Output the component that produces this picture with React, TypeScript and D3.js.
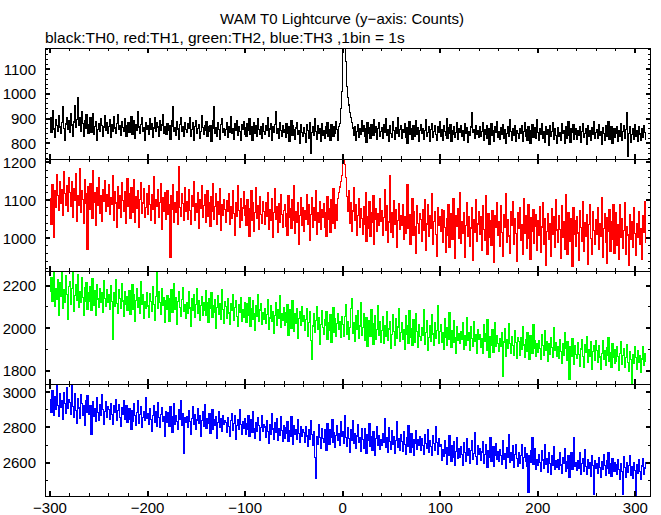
import React from "react";
import * as d3 from "d3";

// first bin start time (s); 1 bin = 1 s
const START_TIME = -300;

// TH0 (black) counts per 1 s bin, from t = -300 to t = 310
const TH0 = [
  905, 842, 880, 931, 858, 823, 896, 871, 849, 912, 866, 838, 884, 947, 861, 812, 878, 903, 855, 893,
  842, 919, 874, 828, 886, 951, 863, 897, 985, 872, 905, 848, 930, 880, 826, 893, 859, 914, 871, 839,
  876, 903, 845, 861, 922, 834, 868, 889, 812, 857, 880, 846, 898, 871, 829, 866, 910, 852, 884, 841,
  868, 895, 823, 877, 849, 906, 862, 838, 881, 916, 855, 872, 831, 889, 864, 847, 901, 873, 826, 858,
  882, 845, 869, 907, 836, 861, 893, 818, 874, 852, 928, 866, 839, 877, 902, 848, 863, 811, 885, 857,
  871, 834, 898, 856, 879, 823, 862, 905, 847, 884, 866, 829, 893, 852, 874, 918, 841, 869, 857, 836,
  880, 851, 873, 817, 868, 892, 950, 846, 862, 831, 887, 858, 814, 875, 903, 849, 866, 827, 884, 857,
  843, 878, 861, 902, 829, 855, 884, 812, 867, 893, 838, 859, 876, 821, 848, 911, 863, 834, 870, 852,
  888, 826, 866, 847, 873, 809, 859, 893, 950, 841, 864, 828, 882, 855, 817, 876, 899, 843, 861, 832,
  857, 884, 822, 869, 845, 906, 838, 861, 815, 879, 852, 893, 831, 866, 847, 810, 874, 858, 889, 836,
  862, 827, 879, 851, 898, 834, 866, 813, 855, 884, 841, 872, 829, 901, 857, 836, 868, 819, 880, 849,
  834, 871, 852, 905, 826, 858, 881, 812, 867, 845, 876, 930, 838, 861, 819, 884, 850, 827, 872, 843,
  856, 823, 880, 841, 866, 808, 849, 893, 832, 871, 855, 817, 862, 884, 836, 851, 799, 877, 845, 826,
  863, 839, 802, 874, 852, 821, 884, 758, 845, 867, 830, 899, 848, 816, 871, 840, 858, 809, 880, 833,
  852, 818, 869, 840, 883, 826, 857, 811, 874, 846, 829, 866, 838, 889, 855, 812, 867, 880, 940, 1010,
  1200, 1250, 1230, 1130, 1030, 985, 955, 925, 905, 885, 862, 831, 866, 812, 849, 877, 825, 858, 836, 893,
  846, 871, 829, 858, 804, 885, 840, 862, 819, 876, 851, 833, 897, 844, 868, 815, 859, 882, 827, 848,
  863, 821, 877, 845, 898, 832, 856, 809, 870, 841, 824, 886, 851, 817, 864, 839, 902, 828, 855, 872,
  818, 856, 842, 879, 825, 863, 801, 847, 889, 834, 858, 815, 871, 846, 829, 893, 837, 862, 808, 851,
  874, 838, 861, 817, 852, 895, 829, 843, 868, 806, 856, 881, 824, 849, 872, 835, 813, 866, 842, 888,
  827, 854, 811, 872, 846, 830, 898, 819, 862, 841, 876, 808, 853, 835, 869, 822, 845, 884, 816, 858,
  843, 870, 826, 852, 813, 881, 839, 864, 805, 848, 830, 866, 925, 843, 857, 818, 873, 834, 851, 824,
  869, 827, 846, 884, 812, 855, 837, 872, 819, 861, 796, 848, 878, 831, 853, 809, 866, 842, 889, 825,
  848, 815, 863, 836, 877, 821, 854, 799, 841, 868, 829, 894, 846, 812, 859, 833, 872, 807, 850, 838,
  821, 858, 840, 873, 807, 846, 882, 828, 855, 813, 867, 839, 801, 850, 876, 824, 847, 862, 818, 896,
  842, 811, 859, 834, 878, 820, 849, 803, 866, 837, 855, 792, 871, 829, 846, 883, 815, 858, 832, 801,
  864, 826, 845, 812, 879, 838, 853, 798, 869, 821, 847, 886, 830, 805, 858, 842, 874, 816, 836, 860,
  815, 852, 833, 867, 804, 846, 881, 822, 839, 858, 794, 871, 828, 850, 812, 865, 837, 889, 818, 844,
  856, 819, 877, 832, 848, 796, 864, 841, 810, 873, 827, 853, 888, 815, 842, 868, 801, 835, 859, 824,
  838, 866, 809, 852, 827, 879, 813, 846, 872, 820, 855, 925, 748, 841, 868, 803, 836, 859, 814, 877,
  829, 851, 806, 866, 837, 812, 858, 824, 871, 843, 816,
];

// TH1 (red)
const TH1 = [
  1105, 1038, 1142, 1098, 1003, 1126, 1081, 1167, 1112, 1074, 1150, 1093, 1129, 1061, 1175, 1118, 1087, 1139, 1072, 1160,
  1121, 1083, 1149, 1056, 1132, 1099, 1170, 1045, 1113, 1086, 1184, 1068, 1127, 1102, 1040, 1155, 1091, 1118, 970, 1135,
  1076, 1143, 1109, 1052, 1178, 1094, 1121, 1035, 1133, 1087, 1160, 1067, 1112, 1045, 1129, 1098, 1152, 1071, 1116, 1083,
  1141, 1064, 1107, 1089, 1165, 1048, 1122, 1093, 1030, 1137, 1079, 1113, 1056, 1148, 1099, 1072, 1124, 1040, 1101, 1158,
  1085, 1117, 1052, 1134, 1097, 1068, 1156, 1043, 1111, 1079, 1125, 1028, 1102, 1147, 1066, 1093, 1130, 1055, 1081, 1119,
  1062, 1139, 1090, 1048, 1115, 1077, 1163, 1039, 1102, 1084, 1128, 1056, 1095, 1143, 1023, 1108, 1071, 1120, 1049, 1097,
  1126, 1064, 1088, 950, 1112, 1075, 1141, 1043, 1094, 1069, 1123, 1036, 1190, 1082, 1058, 1117, 1091, 1047, 1134, 1072,
  1098, 1051, 1129, 1074, 1037, 1112, 1083, 1150, 1046, 1091, 1068, 1121, 1027, 1103, 1079, 1138, 1055, 1087, 1114, 1042,
  1075, 1126, 1058, 1094, 1031, 1109, 1072, 1145, 1049, 1083, 1117, 1038, 1096, 1064, 1132, 1020, 1088, 1060, 1103, 1077,
  1042, 1099, 1071, 1118, 1036, 1084, 1053, 1127, 1066, 1009, 1095, 1058, 1140, 1073, 1029, 1106, 1047, 1080, 1122, 1061,
  1087, 1034, 1101, 1062, 1005, 1079, 1125, 1048, 1093, 1017, 1068, 1134, 1052, 1086, 1024, 1110, 1063, 1039, 1097, 1071,
  1036, 1095, 1059, 1120, 1023, 1077, 1046, 1105, 1002, 1068, 1131, 1050, 1084, 1015, 1092, 1041, 1116, 1063, 1028, 1074,
  1090, 1031, 1066, 1009, 1112, 1054, 1079, 1025, 1101, 1047, 1138, 1012, 1070, 1043, 1095, 985, 1061, 1107, 1034, 1082,
  1019, 1073, 1050, 1116, 1037, 1089, 994, 1062, 1108, 1028, 1081, 1046, 1125, 1011, 1069, 1041, 1098, 1024, 1076, 1055,
  1092, 1030, 1067, 1005, 1110, 1049, 1078, 1016, 1101, 1040, 1130, 1062, 1025, 1088, 1047, 1105, 1120, 1135, 1150, 1165,
  1215, 1230, 1195, 1160, 1110, 1070, 1125, 1040, 1095, 1018, 1072, 1133, 1046, 1089, 1007, 1061, 1104, 1029, 1078, 1052,
  1011, 1083, 1037, 1120, 992, 1058, 1026, 1097, 1004, 1069, 1041, 1112, 985, 1050, 1079, 1018, 1064, 1033, 1106, 1045,
  1072, 1009, 1054, 1128, 1021, 1086, 990, 1043, 1165, 1015, 1067, 1002, 1099, 1038, 1075, 976, 1048, 1091, 1024, 1060,
  1034, 1090, 997, 1058, 1013, 1079, 1141, 1026, 1063, 985, 1047, 1104, 1008, 1071, 1032, 960, 1085, 1039, 1012, 1066,
  1050, 992, 1076, 1021, 1103, 968, 1038, 1089, 1004, 1060, 1025, 1118, 983, 1045, 1071, 1010, 952, 1082, 1033, 1057,
  1019, 1075, 990, 1073, 1028, 962, 1053, 1009, 1088, 975, 1040, 1066, 998, 1104, 1022, 946, 1061, 1031, 1079, 1001,
  1120, 987, 1045, 1012, 1067, 950, 1034, 1093, 1006, 1058, 979, 1027, 1082, 943, 1049, 1015, 1101, 992, 1038, 1070,
  1011, 1056, 968, 1087, 1024, 995, 1112, 1039, 958, 1065, 1003, 1046, 981, 1074, 1020, 937, 1059, 1030, 1095, 1007,
  1043, 978, 1085, 1016, 952, 1062, 1028, 1119, 990, 1049, 1006, 961, 1071, 1034, 1097, 983, 1052, 1013, 940, 1068,
  1025, 1080, 995, 1037, 958, 1104, 1012, 1060, 974, 1041, 1089, 1000, 945, 1055, 1018, 1076, 987, 1032, 1063, 969,
  1047, 1009, 1083, 962, 1030, 1094, 985, 1051, 930, 1019, 1066, 998, 1040, 953, 1078, 1011, 1057, 976, 1101, 1022,
  990, 1061, 1024, 948, 1085, 1003, 1045, 972, 1116, 1018, 957, 1069, 1033, 991, 1052, 925, 1080, 1010, 1047, 979,
  1058, 1014, 943, 1074, 1029, 992, 1098, 966, 1041, 1005, 1063, 931, 1037, 1088, 1000, 959, 1070, 1021, 985, 1049,
  1011, 1082, 970, 1039, 1006, 1107, 951, 1026, 1064, 990, 934, 1055, 1017, 1076, 965, 1043, 998, 1090, 960, 1030,
  1067, 982, 1035, 945, 1088, 1003, 1052, 974, 1020, 1093, 957, 1031, 1009, 928, 1062, 996, 1044, 975, 1081, 1012,
  956, 1038, 1003, 1071, 984, 1026, 945, 1059, 1015, 1096, 990,
];

// TH2 (green)
const TH2 = [
  2175, 2240, 2128, 2205, 2262, 2100, 2188, 2135, 2230, 2058, 2215, 2150, 2265, 2093, 2180, 2122, 2248, 2160, 2040, 2197,
  2220, 2112, 2185, 2262, 2078, 2154, 2206, 2131, 2250, 2096, 2173, 2119, 2238, 2145, 2060, 2192, 2127, 2214, 2088, 2168,
  2126, 2195, 2084, 2231, 2150, 2109, 2178, 2062, 2204, 2137, 2096, 2187, 2122, 2168, 2075, 2225, 2141, 2103, 2182, 2119,
  2159, 2087, 2198, 2124, 1945, 2166, 2103, 2230, 2115, 2070, 2181, 2139, 2094, 2212, 2128, 2056, 2171, 2110, 2147, 2082,
  2145, 2176, 2065, 2118, 2203, 2090, 2157, 2034, 2132, 2184, 2099, 2146, 2071, 2220, 2113, 2160, 2048, 2127, 2095, 2169,
  2104, 2051, 2162, 2125, 2080, 2196, 2113, 2037, 2148, 2265, 2092, 2171, 2119, 2063, 2185, 2106, 2142, 2026, 2130, 2088,
  2155, 2094, 2031, 2139, 2182, 2075, 2116, 2208, 2087, 2143, 2019, 2126, 2170, 2098, 2054, 2135, 2193, 2081, 2111, 2046,
  2122, 2068, 2174, 2095, 2010, 2137, 2083, 2156, 2049, 2112, 2188, 2071, 2128, 2035, 2105, 2150, 2062, 2119, 2084, 2176,
  2059, 2118, 2026, 2141, 2093, 2167, 2050, 2104, 2075, 2133, 1998, 2097, 2152, 2067, 2115, 2041, 2180, 2086, 2023, 2126,
  2102, 2044, 2138, 2071, 2019, 2115, 2083, 2160, 2037, 2096, 2128, 2055, 2006, 2109, 2074, 2143, 2030, 2089, 2051, 2120,
  2078, 2025, 2117, 2062, 2143, 2008, 2090, 2041, 2131, 2069, 1990, 2104, 2053, 2158, 2032, 2085, 2116, 2017, 2072, 2039,
  2094, 2021, 2066, 2135, 1992, 2048, 2107, 2030, 2079, 1975, 2061, 2122, 2014, 2088, 2045, 2152, 2003, 2070, 2036, 2099,
  2012, 2073, 2029, 2110, 1968, 2055, 2086, 2001, 2130, 2040, 1985, 2067, 2023, 2094, 1950, 2047, 2079, 2015, 2102, 2034,
  2058, 1987, 2041, 2093, 1962, 2025, 2076, 1940, 1855, 2010, 2069, 1978, 2035, 2102, 1996, 2050, 1923, 2017, 2084, 2003,
  1972, 2040, 2011, 2079, 1948, 2026, 1990, 2063, 1935, 2008, 2097, 1981, 2045, 1960, 2021, 2070, 1994, 2033, 1956, 2052,
  2018, 1963, 2055, 2112, 1970, 2031, 1945, 2004, 2094, 2140, 1976, 2027, 1938, 2061, 1995, 2083, 1952, 2010, 2120, 1967,
  2002, 2068, 1941, 1995, 2049, 1914, 1987, 2036, 1960, 2085, 1978, 1925, 2021, 2060, 1949, 1993, 2107, 1968, 2030, 1934,
  1990, 2054, 1928, 2011, 1963, 2079, 1942, 1996, 2032, 1905, 1970, 2063, 1985, 1919, 2044, 1952, 2005, 2091, 1937, 1978,
  2025, 1946, 1993, 1902, 2058, 1971, 2010, 1930, 2084, 1957, 1998, 1917, 2040, 1975, 1933, 2069, 1986, 1911, 2017, 1962,
  1941, 2002, 1968, 2087, 1925, 1979, 2034, 1896, 1955, 2011, 1939, 2065, 1972, 1918, 2026, 1950, 1990, 2104, 1928, 1983,
  2015, 1934, 1978, 1899, 2043, 1956, 1920, 2003, 1946, 2072, 1967, 1908, 1989, 1931, 2036, 1957, 1882, 2008, 1944, 1973,
  1926, 1985, 1949, 2024, 1901, 1963, 1918, 2050, 1940, 1977, 1893, 2009, 1952, 1914, 2030, 1936, 1970, 1880, 1995, 1947,
  1968, 1907, 1952, 1880, 2015, 1939, 1976, 1896, 2041, 1930, 1860, 1958, 1921, 1993, 1885, 1947, 2027, 1912, 1963, 1929,
  1890, 1951, 1912, 1979, 1772, 1935, 1998, 1868, 1944, 1903, 2020, 1926, 1883, 1962, 1917, 1870, 1988, 1932, 1859, 1954,
  1937, 1874, 1956, 1898, 2005, 1921, 1862, 1945, 1889, 1978, 1910, 1851, 1963, 1927, 1880, 2018, 1903, 1940, 1866, 1925,
  1884, 1942, 1905, 1853, 1968, 1919, 1871, 1990, 1896, 1938, 1845, 1926, 1877, 1955, 1908, 1862, 2001, 1893, 1931, 1868,
  1915, 1858, 1947, 1890, 1836, 1925, 1872, 1980, 1903, 1848, 1937, 1884, 1760, 1912, 1866, 1953, 1895, 1831, 1920, 1877,
  1859, 1930, 1876, 1822, 1902, 1947, 1865, 1813, 1924, 1884, 1960, 1841, 1897, 1868, 1935, 1808, 1889, 1916, 1850, 1942,
  1896, 1837, 1918, 1864, 1805, 1881, 1940, 1852, 1893, 1826, 1907, 1871, 1955, 1843, 1886, 1815, 1928, 1860, 1899, 1834,
  1845, 1913, 1868, 1801, 1882, 1938, 1829, 1871, 1906, 1816, 1861, 1924, 1840, 1795, 1889, 1853, 1742, 1877, 1832, 1915,
  1862, 1808, 1893, 1837, 1870, 1790, 1855, 1912, 1826, 1881, 1845,
];

// TH3 (blue)
const TH3 = [
  2960, 2885, 3010, 2932, 2871, 2978, 2905, 3040, 2924, 2862, 2990, 2913, 2951, 2848, 2997, 2936, 2880, 3025, 2909, 2958,
  2942, 2875, 3055, 2920, 2858, 2990, 2897, 2826, 2963, 2911, 2850, 2985, 2934, 2869, 2925, 2812, 2950, 2888, 2979, 2902,
  2873, 2925, 2760, 2897, 2948, 2861, 2910, 2832, 2968, 2885, 2840, 2930, 2867, 2985, 2904, 2818, 2893, 2945, 2855, 2916,
  2901, 2846, 2937, 2872, 2815, 2923, 2888, 2960, 2839, 2895, 2930, 2857, 2806, 2912, 2875, 2950, 2848, 2889, 2922, 2830,
  2844, 2905, 2860, 2790, 2897, 2835, 2935, 2868, 2811, 2886, 2951, 2826, 2874, 2917, 2799, 2858, 2893, 2840, 2968, 2852,
  2879, 2817, 2908, 2845, 2780, 2866, 2924, 2831, 2889, 2807, 2940, 2855, 2798, 2874, 2915, 2836, 2861, 2752, 2893, 2840,
  2828, 2885, 2806, 2916, 2851, 2773, 2862, 2937, 2819, 2870, 2836, 2792, 2902, 2845, 2954, 2811, 2877, 2655, 2858, 2827,
  2864, 2802, 2897, 2835, 2761, 2850, 2920, 2815, 2876, 2790, 2843, 2905, 2823, 2869, 2750, 2838, 2888, 2805, 2931, 2846,
  2796, 2853, 2822, 2880, 2768, 2836, 2901, 2790, 2845, 2812, 2864, 2740, 2827, 2890, 2803, 2851, 2776, 2870, 2817, 2838,
  2829, 2772, 2858, 2805, 2751, 2840, 2880, 2786, 2823, 2868, 2730, 2811, 2846, 2792, 2902, 2817, 2760, 2835, 2795, 2853,
  2762, 2824, 2789, 2870, 2748, 2806, 2845, 2771, 2891, 2793, 2738, 2830, 2780, 2855, 2812, 2725, 2799, 2866, 2775, 2818,
  2803, 2745, 2838, 2776, 2710, 2815, 2760, 2880, 2792, 2735, 2826, 2770, 2849, 2728, 2796, 2757, 2861, 2782, 2723, 2809,
  2740, 2798, 2765, 2832, 2719, 2781, 2751, 2864, 2770, 2705, 2812, 2758, 2790, 2730, 2845, 2768, 2714, 2803, 2747, 2786,
  2773, 2715, 2806, 2752, 2690, 2789, 2733, 2840, 2760, 2698, 2775, 2628, 2510, 2749, 2705, 2818, 2742, 2681, 2796, 2738,
  2715, 2787, 2736, 2670, 2824, 2759, 2704, 2790, 2742, 2846, 2713, 2771, 2685, 2755, 2810, 2728, 2766, 2697, 2835, 2751,
  2779, 2712, 2868, 2745, 2690, 2801, 2736, 2660, 2788, 2725, 2840, 2707, 2763, 2682, 2752, 2814, 2718, 2743, 2665, 2796,
  2733, 2681, 2795, 2712, 2654, 2760, 2728, 2821, 2694, 2747, 2668, 2778, 2715, 2642, 2739, 2805, 2700, 2756, 2676, 2731,
  2698, 2764, 2717, 2850, 2685, 2742, 2660, 2798, 2721, 2673, 2780, 2704, 2748, 2651, 2726, 2835, 2689, 2737, 2670, 2758,
  2722, 2664, 2775, 2703, 2645, 2741, 2690, 2808, 2716, 2657, 2763, 2688, 2734, 2640, 2712, 2782, 2675, 2729, 2696, 2750,
  2671, 2738, 2699, 2645, 2760, 2708, 2682, 2790, 2656, 2725, 2691, 2640, 2754, 2710, 2668, 2805, 2717, 2650, 2739, 2693,
  2702, 2611, 2676, 2638, 2725, 2654, 2592, 2688, 2641, 2755, 2667, 2605, 2697, 2630, 2719, 2582, 2662, 2740, 2625, 2679,
  2631, 2692, 2648, 2583, 2714, 2660, 2607, 2735, 2642, 2681, 2596, 2668, 2724, 2619, 2653, 2770, 2637, 2590, 2699, 2650,
  2683, 2612, 2661, 2720, 2594, 2648, 2702, 2625, 2575, 2670, 2633, 2745, 2609, 2656, 2690, 2580, 2641, 2711, 2618, 2664,
  2607, 2675, 2640, 2590, 2726, 2618, 2652, 2570, 2688, 2631, 2760, 2601, 2659, 2614, 2697, 2575, 2645, 2705, 2623, 2580,
  2658, 2596, 2641, 2703, 2567, 2630, 2685, 2609, 2652, 2578, 2433, 2640, 2601, 2667, 2745, 2592, 2626, 2680, 2563, 2619,
  2582, 2648, 2601, 2550, 2671, 2615, 2569, 2702, 2590, 2626, 2547, 2660, 2597, 2532, 2638, 2584, 2690, 2560, 2612, 2575,
  2620, 2563, 2655, 2587, 2538, 2631, 2598, 2680, 2552, 2609, 2570, 2643, 2518, 2596, 2659, 2561, 2617, 2744, 2579, 2603,
  2557, 2612, 2570, 2658, 2531, 2594, 2626, 2548, 2673, 2580, 2536, 2619, 2567, 2602, 2525, 2640, 2585, 2420, 2611, 2569,
  2596, 2540, 2631, 2574, 2518, 2605, 2560, 2645, 2583, 2527, 2611, 2568, 2655, 2539, 2594, 2520, 2621, 2579, 2548, 2602,
  2589, 2531, 2615, 2560, 2507, 2597, 2552, 2420, 2633, 2574, 2519, 2603, 2545, 2586, 2640, 2528, 2578, 2513, 2601, 2555,
  2415, 2590, 2538, 2617, 2550, 2504, 2581, 2625, 2536, 2570, 2598,
];

const X_DOMAIN = [-305.1, 316];
const X_MAJOR = [-300, -200, -100, 0, 100, 200, 300];
const TITLE = "WAM T0 Lightcurve (y\u2212axis: Counts)";
const SUBTITLE = "black:TH0, red:TH1, green:TH2, blue:TH3 ,1bin = 1s";

const P1_DOMAIN = [736, 1186];
const P1_LABELS = [800, 900, 1000, 1100];
const P2_DOMAIN = [914, 1209];
const P2_LABELS = [1000, 1100, 1200];
const P3_DOMAIN = [1737, 2269];
const P3_LABELS = [1800, 2000, 2200];
const P4_DOMAIN = [2411, 3047];
const P4_LABELS = [2600, 2800, 3000];

const FONT = "'Liberation Sans', Arial, Helvetica, sans-serif";

function fmt(v: number) {
  return v < 0 ? "\u2212" + Math.abs(v) : String(v);
}

export default function App() {
  const W = 661;
  const H = 515;
  const left = 45;
  const right = 651;
  const x = d3.scaleLinear().domain(X_DOMAIN).range([left, right]);

  const panels = [
    { id: "p1", data: TH0, color: "#000000", domain: P1_DOMAIN, labels: P1_LABELS, minor: 20, top: 48, bottom: 159 },
    { id: "p2", data: TH1, color: "#ff0000", domain: P2_DOMAIN, labels: P2_LABELS, minor: 20, top: 159, bottom: 271 },
    { id: "p3", data: TH2, color: "#00ff00", domain: P3_DOMAIN, labels: P3_LABELS, minor: 100, top: 271, bottom: 384 },
    { id: "p4", data: TH3, color: "#0000ff", domain: P4_DOMAIN, labels: P4_LABELS, minor: 100, top: 384, bottom: 496 },
  ];

  const xMinor = d3.range(-300, 301, 20).filter((v) => !X_MAJOR.includes(v));
  const MAJ = 5;
  const MIN = 3;

  return (
    <svg
      width={W}
      height={H}
      viewBox={`0 0 ${W} ${H}`}
      style={{ position: "absolute", left: 0, top: 0, background: "#fff" }}
      fontFamily={FONT}
    >
      <rect x={0} y={0} width={W} height={H} fill="#fff" />
      <text x={342} y={24} fontSize={15} textAnchor="middle" fill="#000">
        {TITLE}
      </text>
      <text x={left} y={43} fontSize={15.5} fill="#000">
        {SUBTITLE}
      </text>
      <defs>
        {panels.map((p) => (
          <clipPath id={`clip-${p.id}`} key={p.id}>
            <rect x={left} y={p.top} width={right - left} height={p.bottom - p.top} />
          </clipPath>
        ))}
      </defs>
      {panels.map((p) => {
        const y = d3.scaleLinear().domain(p.domain).range([p.bottom, p.top]);
        const pts: [number, number][] = p.data.map((v, i) => [START_TIME + i, v]);
        pts.push([START_TIME + p.data.length, p.data[p.data.length - 1]]);
        const line = d3
          .line<[number, number]>()
          .x((d) => x(d[0]))
          .y((d) => y(d[1]))
          .curve(d3.curveStepAfter);
        const [d0, d1] = p.domain;
        const yMinor = d3
          .range(Math.ceil(d0 / p.minor) * p.minor, d1, p.minor)
          .filter((v) => !p.labels.includes(v));
        return (
          <g key={p.id} shapeRendering="crispEdges">
            <path
              d={line(pts) || ""}
              fill="none"
              stroke={p.color}
              strokeWidth={1.2}
              clipPath={`url(#clip-${p.id})`}
            />
            <rect
              x={left + 0.5}
              y={p.top + 0.5}
              width={right - left - 1}
              height={p.bottom - p.top}
              fill="none"
              stroke="#000"
              strokeWidth={1}
            />
            {X_MAJOR.map((v) => (
              <g key={`xm${v}`}>
                <line x1={x(v)} x2={x(v)} y1={p.top} y2={p.top + MAJ} stroke="#000" strokeWidth={2} />
                <line x1={x(v)} x2={x(v)} y1={p.bottom} y2={p.bottom - MAJ} stroke="#000" strokeWidth={2} />
              </g>
            ))}
            {xMinor.map((v) => (
              <g key={`xn${v}`}>
                <line x1={x(v)} x2={x(v)} y1={p.top} y2={p.top + MIN} stroke="#000" />
                <line x1={x(v)} x2={x(v)} y1={p.bottom} y2={p.bottom - MIN} stroke="#000" />
              </g>
            ))}
            {p.labels.map((v) => (
              <g key={`ym${v}`}>
                <line x1={left} x2={left + MAJ} y1={y(v)} y2={y(v)} stroke="#000" strokeWidth={2} />
                <line x1={right} x2={right - MAJ} y1={y(v)} y2={y(v)} stroke="#000" strokeWidth={2} />
              </g>
            ))}
            {yMinor.map((v) => (
              <g key={`yn${v}`}>
                <line x1={left} x2={left + MIN} y1={y(v)} y2={y(v)} stroke="#000" />
                <line x1={right} x2={right - MIN} y1={y(v)} y2={y(v)} stroke="#000" />
              </g>
            ))}
          </g>
        );
      })}
      {panels.map((p) => {
        const y = d3.scaleLinear().domain(p.domain).range([p.bottom, p.top]);
        return p.labels.map((v) => (
          <text key={`yl${p.id}${v}`} x={36} y={y(v)} dy="0.36em" fontSize={15} textAnchor="end" fill="#000">
            {fmt(v)}
          </text>
        ));
      })}
      {X_MAJOR.map((v) => (
        <text key={`xl${v}`} x={x(v)} y={513} fontSize={15} textAnchor="middle" fill="#000">
          {fmt(v)}
        </text>
      ))}
    </svg>
  );
}
